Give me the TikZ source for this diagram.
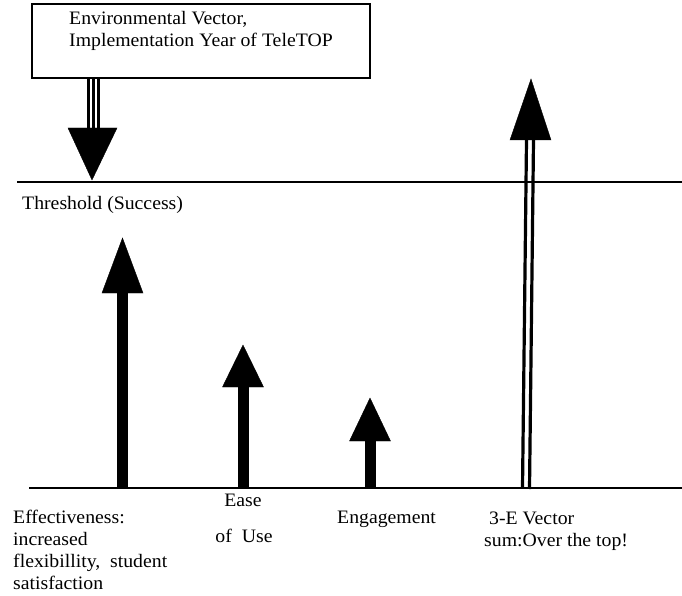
\documentclass[tikz,border=0pt]{standalone}
\usepackage{fontspec}
\setmainfont{Liberation Serif}[FakeStretch=1.04]
\usepackage{tikz}

\tikzset{
  lbl/.style={anchor=west,inner sep=0pt,align=left,font=\fontsize{19}{22}\selectfont},
  head/.style={fill=black,draw=black,line join=miter}
}

\begin{document}
\begin{tikzpicture}[x=1pt,y=-1pt]
\useasboundingbox (0,0) rectangle (682,596);

% Environmental vector box
\draw[line width=1.5pt] (32,4) rectangle (370,78);
\node[lbl,anchor=north west] (env) at (69,11) {Environmental Vector,\\Implementation Year of TeleTOP};

% Triple-line shaft and head pointing to the threshold
\foreach \x in {88.5,93.5,98.5}
    \draw[line width=2.5pt] (\x,78) -- (\x,129);
\draw[head] (68,128) -- (117,128) -- (92,180) -- cycle;

% Threshold line
\draw[line width=2.5pt] (17,182) -- (682,182);
\node[lbl] (thr) at (22,205) {Threshold (Success)};

% Base line
\draw[line width=2pt] (29,488) -- (682,488);

% The three E vectors
\foreach \x/\tip/\hb in {122.5/238/293, 243/345/387, 370/398/441} {
    \fill (\x-5.5,488) rectangle (\x+5.5,\hb);
    \draw[head] (\x-20.5,\hb) -- (\x+20.5,\hb) -- (\x,\tip) -- cycle;
}

% 3-E vector sum: double-line shaft
\draw[line width=3.2pt] (526.5,140) -- (522.5,488);
\draw[line width=3.2pt] (533.5,140) -- (529.5,489);
\draw[head] (510,140) -- (551,140) -- (531,79) -- cycle;

% Labels
\node[lbl] (eff) at (13,550) {Effectiveness:\\increased\\flexibillity,\ \ student\\satisfaction};
\node[lbl,anchor=center] (ease) at (243,500) {Ease};
\node[lbl,anchor=center] (use) at (244,536) {of\ \ Use};
\node[lbl] (eng) at (337,519) {Engagement};
\node[lbl] (sum) at (484,531) {\ 3-E Vector\\sum:Over the top!};
\end{tikzpicture}
\end{document}
